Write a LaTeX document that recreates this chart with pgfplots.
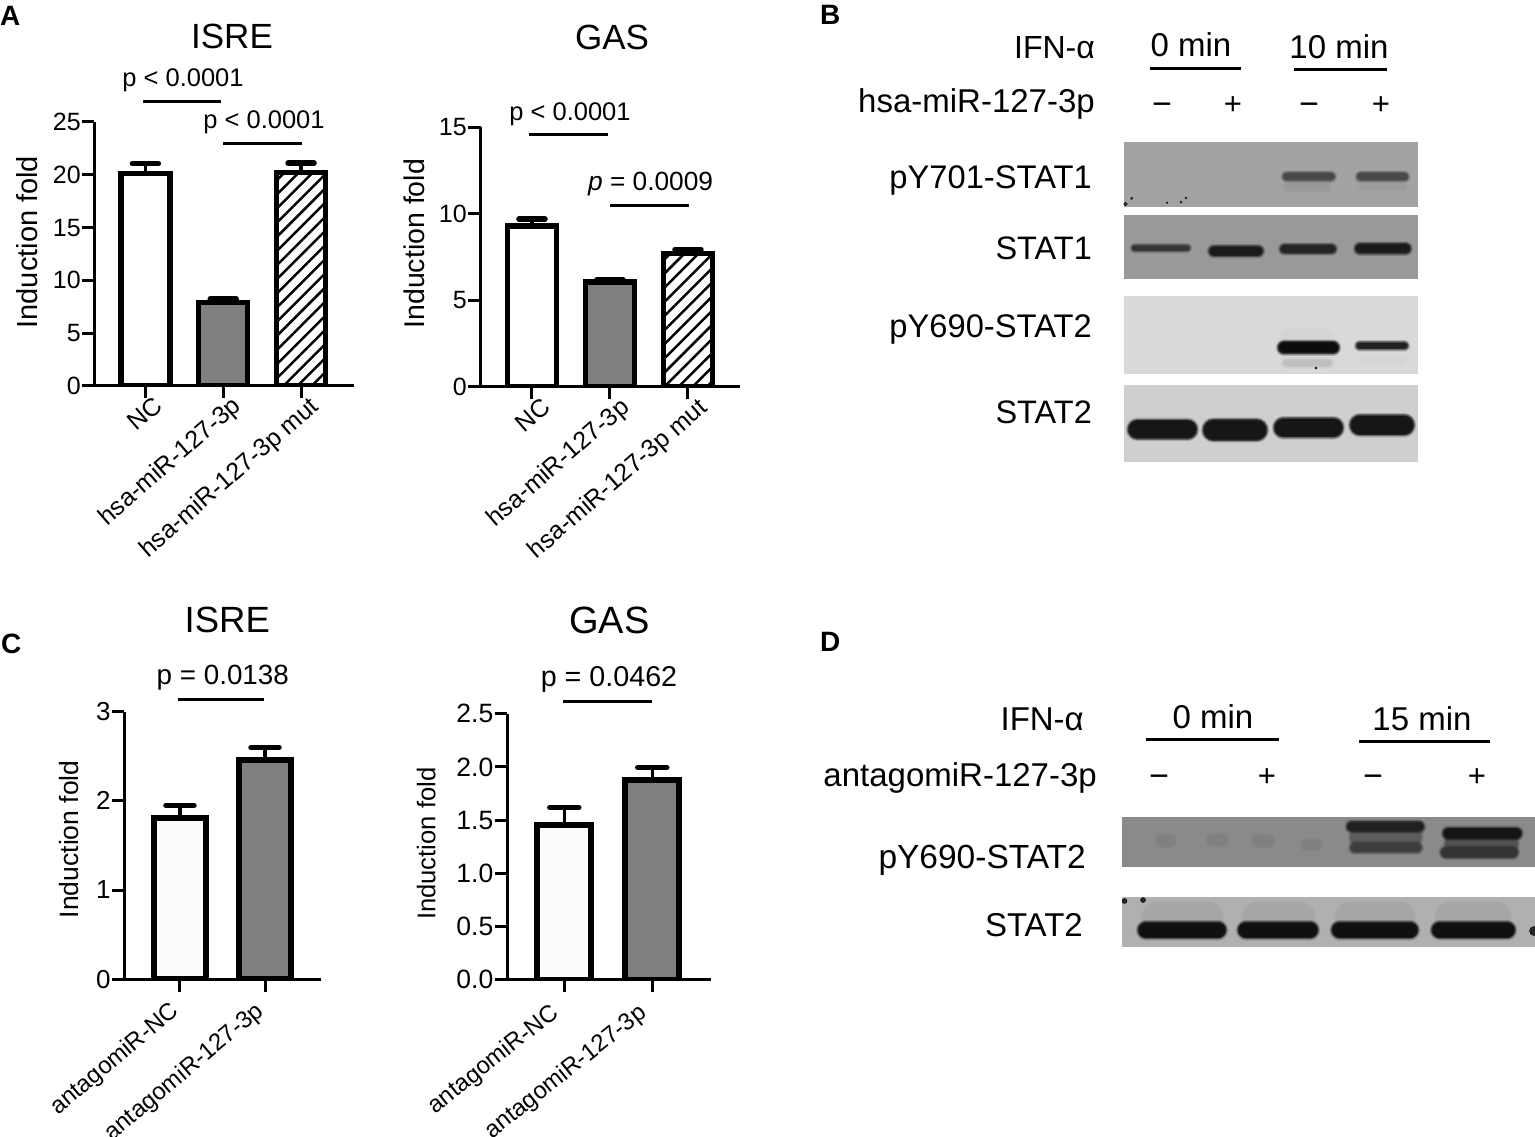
\documentclass[border=0pt]{standalone}
\usepackage{fontspec}
\setmainfont{Liberation Sans}
\usepackage{pgfplots}
\pgfplotsset{compat=1.18}
\usetikzlibrary{patterns.meta}
\newcommand{\fs}[1]{\fontsize{#1}{#1}\selectfont}
\definecolor{bargray}{HTML}{7F7F7F}
\definecolor{offwhite}{HTML}{FDFBF9}
% one soft blot band: x1, x2, y, thickness, colour
\newcommand{\band}[5]{%
  \pgfmathsetmacro{\bA}{#1+#4/2}\pgfmathsetmacro{\bB}{#2-#4/2}%
  \addplot[draw=#5,line cap=round,opacity=.10,line width=#4pt+5pt,no markers,forget plot] coordinates {(\bA,#3)(\bB,#3)};%
  \addplot[draw=#5,line cap=round,opacity=.14,line width=#4pt+3.8pt,no markers,forget plot] coordinates {(\bA,#3)(\bB,#3)};%
  \addplot[draw=#5,line cap=round,opacity=.20,line width=#4pt+2.6pt,no markers,forget plot] coordinates {(\bA,#3)(\bB,#3)};%
  \addplot[draw=#5,line cap=round,opacity=.30,line width=#4pt+1.5pt,no markers,forget plot] coordinates {(\bA,#3)(\bB,#3)};%
  \addplot[draw=#5,line cap=round,opacity=.45,line width=#4pt+0.5pt,no markers,forget plot] coordinates {(\bA,#3)(\bB,#3)};%
  \addplot[draw=#5,line cap=round,opacity=.65,line width=#4pt-1pt,no markers,forget plot] coordinates {(\bA,#3)(\bB,#3)};%
  \addplot[draw=#5,line cap=round,opacity=.85,line width=#4pt-2.5pt,no markers,forget plot] coordinates {(\bA,#3)(\bB,#3)};%
}
\newcommand{\blot}[5]{\addplot[fill=#5,draw=none,forget plot] coordinates {(#1,#2)(#3,#2)(#3,#4)(#1,#4)} -- cycle;}
\newcommand{\speck}[4]{\addplot[draw=none,mark=*,mark size=#3pt,mark options={fill=#4,draw=none},only marks,forget plot] coordinates {(#1,#2)};}
\newcommand{\sig}[3]{\addplot[black,line width=3pt,no markers,forget plot] coordinates {(#1,#3)(#2,#3)};}
\pgfplotsset{
  barax/.style={scale only axis,axis lines=left,axis line style={-,line width=3pt,black},
    tick style={line width=3pt,black},tick align=outside,
    major tick length=12.5pt,minor tick length=0pt,
    enlargelimits=false,ymin=0,
    /pgf/number format/assume math mode=true,
    yticklabel style={inner sep=1pt},
    every axis y label/.style={rotate=90,anchor=center},
    clip=true},
  mybar/.style={ybar,bar shift=0pt,draw=black,line join=miter,
    error bars/y dir=plus,error bars/y explicit,
    error bars/error bar style={line width=3.5pt,black},
    error bars/error mark options={rotate=90,mark size=#1pt,line width=5.5pt,line cap=round,black}},
}
\begin{document}
\begin{tikzpicture}
\path[use as bounding box] (0pt,0pt) rectangle (1535pt,1136pt);
% ---------- page-wide layer in pixel coordinates: blots, brackets, text
\begin{axis}[at={(0pt,0pt)},anchor=south west,scale only axis,width=1535pt,height=1136pt,
  xmin=0,xmax=1535,ymin=0,ymax=1136,y dir=reverse,hide axis,enlargelimits=false]
% blot B1
\blot{1124}{142.3}{1418}{206.7}{black!36}
\band{1285}{1330}{187}{7}{black!40}
\band{1282.7}{1335}{176.7}{8}{black!72}
\band{1360}{1405}{187}{6}{black!39}
\band{1356.7}{1408.3}{176.7}{8}{black!72}
\speck{1131.7}{198.3}{1.2}{black!65}
\speck{1167}{202.7}{0.8}{black!55}
\speck{1181}{202}{1.2}{black!65}
\speck{1186}{198}{1.2}{black!55}
\speck{1125.5}{204}{1.8}{black!80}
% blot B2
\blot{1124}{215.3}{1418}{279.3}{black!40}
\band{1131.7}{1190}{248}{6}{black!80}
\band{1209}{1263}{251}{10}{black!90}
\band{1280}{1336}{249}{9}{black!86}
\band{1355}{1410.7}{248.7}{10}{black!90}
% blot B3
\blot{1124}{296}{1418}{374.3}{black!15}
\band{1283}{1332}{335}{10}{black!17}
\band{1283}{1332}{363}{7}{black!25}
\band{1278}{1339}{347.7}{12}{black!96}
\band{1360}{1405}{360}{6}{black!17}
\band{1356}{1408}{345.7}{7}{black!88}
\speck{1316}{368}{1.2}{black!70}
% blot B4
\blot{1124}{385}{1418}{462.3}{black!19}
\band{1128}{1197}{429.3}{19}{black!92}
\band{1203}{1267}{430}{21}{black!92}
\band{1274}{1343}{427.7}{19}{black!92}
\band{1350}{1414}{425}{20}{black!92}
% blot D1
\blot{1122.3}{816.7}{1535}{866.7}{black!46}
\band{1157}{1175}{841}{11}{black!50}
\band{1208}{1228}{840}{11}{black!50}
\band{1253}{1273}{841}{11}{black!50}
\band{1302}{1321}{845}{9}{black!50}
\band{1350}{1421.7}{837}{17}{black!64}
\band{1346.7}{1424}{826.7}{10}{black!88}
\band{1350}{1421.7}{847.7}{10}{black!76}
\band{1445}{1518}{843}{17}{black!68}
\band{1443}{1521.7}{833.3}{11}{black!92}
\band{1440.7}{1518}{852.3}{11}{black!80}
% blot D2
\blot{1122.3}{897}{1535}{947}{black!31}
\band{1143}{1222}{918}{30}{black!35}
\band{1243}{1314}{918}{30}{black!35}
\band{1336}{1414}{918}{30}{black!35}
\band{1436}{1510}{918}{30}{black!35}
\band{1138}{1226}{930}{16}{black!94}
\band{1238}{1318}{930}{16}{black!94}
\band{1331.7}{1418}{930}{16}{black!94}
\band{1431.7}{1515}{930}{16}{black!94}
\speck{1534}{931}{4.5}{black!85}
\speck{1124.5}{901}{2.5}{black!85}
\speck{1143}{900}{2.5}{black!85}
% significance lines
\sig{142.7}{221}{101.7}
\sig{223.3}{302.3}{143.3}
\sig{529}{607.7}{134.5}
\sig{610}{689}{205.7}
\sig{178}{264}{699.5}
\sig{563}{651.7}{701.5}
\sig{1150}{1241}{68}
\sig{1294}{1387}{69}
\sig{1146}{1279}{739}
\sig{1359}{1490}{741}
% panel letters
\node[anchor=base west,inner sep=0pt,font=\fs{28}\bfseries] at (axis cs:0,25) {A};
\node[anchor=base west,inner sep=0pt,font=\fs{28}\bfseries] at (axis cs:820,24) {B};
\node[anchor=base west,inner sep=0pt,font=\fs{28}\bfseries] at (axis cs:1,653) {C};
\node[anchor=base west,inner sep=0pt,font=\fs{28}\bfseries] at (axis cs:820,651) {D};
% titles
\node[anchor=base,inner sep=0pt,font=\fs{35}] at (axis cs:232,48.3) {ISRE};
\node[anchor=base,inner sep=0pt,font=\fs{35}] at (axis cs:612,49) {GAS};
\node[anchor=base,inner sep=0pt,font=\fs{36.5}] at (axis cs:227.3,632.5) {ISRE};
\node[anchor=base,inner sep=0pt,font=\fs{38}] at (axis cs:609.5,633.5) {GAS};
% p values
\node[anchor=base,inner sep=0pt,font=\fs{25.5}] at (axis cs:183,86.7) {p < 0.0001};
\node[anchor=base,inner sep=0pt,font=\fs{25.5}] at (axis cs:264,128.3) {p < 0.0001};
\node[anchor=base,inner sep=0pt,font=\fs{25.5}] at (axis cs:570,120) {p < 0.0001};
\node[anchor=base,inner sep=0pt,font=\fs{26.3}] at (axis cs:650.6,190) {\textit{p} = 0.0009};
\node[anchor=base,inner sep=0pt,font=\fs{27.8}] at (axis cs:222.8,684.4) {p = 0.0138};
\node[anchor=base,inner sep=0pt,font=\fs{28.7}] at (axis cs:609,686.5) {p = 0.0462};
% panel B text
\node[anchor=base east,inner sep=0pt,font=\fs{32}] at (axis cs:1095,58) {IFN-α};
\node[anchor=base,inner sep=0pt,font=\fs{33}] at (axis cs:1191,56) {0 min};
\node[anchor=base,inner sep=0pt,font=\fs{33}] at (axis cs:1339,58) {10 min};
\node[anchor=base east,inner sep=0pt,font=\fs{33}] at (axis cs:1095,112) {hsa-miR-127-3p};
\node[anchor=base,inner sep=0pt,font=\fs{34}] at (axis cs:1162,115) {−};
\node[anchor=base,inner sep=0pt,font=\fs{31}] at (axis cs:1233,114) {+};
\node[anchor=base,inner sep=0pt,font=\fs{34}] at (axis cs:1309,115) {−};
\node[anchor=base,inner sep=0pt,font=\fs{31}] at (axis cs:1381,114) {+};
\node[anchor=base east,inner sep=0pt,font=\fs{32.7}] at (axis cs:1092,188) {pY701-STAT1};
\node[anchor=base east,inner sep=0pt,font=\fs{32.5}] at (axis cs:1092,259) {STAT1};
\node[anchor=base east,inner sep=0pt,font=\fs{32.7}] at (axis cs:1092,337) {pY690-STAT2};
\node[anchor=base east,inner sep=0pt,font=\fs{32.5}] at (axis cs:1092,423) {STAT2};
% panel D text
\node[anchor=base east,inner sep=0pt,font=\fs{33}] at (axis cs:1084,730) {IFN-α};
\node[anchor=base,inner sep=0pt,font=\fs{33}] at (axis cs:1213,728) {0 min};
\node[anchor=base,inner sep=0pt,font=\fs{33}] at (axis cs:1422,730) {15 min};
\node[anchor=base east,inner sep=0pt,font=\fs{33}] at (axis cs:1097,786) {antagomiR-127-3p};
\node[anchor=base,inner sep=0pt,font=\fs{34}] at (axis cs:1159,787) {−};
\node[anchor=base,inner sep=0pt,font=\fs{31}] at (axis cs:1267,786) {+};
\node[anchor=base,inner sep=0pt,font=\fs{34}] at (axis cs:1373,787) {−};
\node[anchor=base,inner sep=0pt,font=\fs{31}] at (axis cs:1477,786) {+};
\node[anchor=base east,inner sep=0pt,font=\fs{33.5}] at (axis cs:1086,868) {pY690-STAT2};
\node[anchor=base east,inner sep=0pt,font=\fs{33}] at (axis cs:1083,936) {STAT2};
\end{axis}
% ---------- A, ISRE
\begin{axis}[barax,at={(94.5pt,750pt)},anchor=south west,width=259.5pt,height=264pt,
  xmin=-0.654,xmax=2.680,ymax=25,ytick={0,5,10,15,20,25},
  xtick={0,1,2},xticklabels={NC\hspace{13pt},hsa-miR-127-3p,hsa-miR-127-3p mut},
  yticklabel style={font=\fs{25}},
  xticklabel style={font=\fs{25},rotate=41,anchor=north east,inner sep=0pt,xshift=8pt,yshift=-2pt},
  ylabel={Induction fold},ylabel style={font=\fs{29},at={(axis description cs:-0.26,0.545)}}]
\addplot[mybar=13,bar width=49pt,line width=5.5pt,fill=white] coordinates {(0,20.1) +- (0,0.95)};
\addplot[mybar=13,bar width=49pt,line width=5.5pt,fill=bargray] coordinates {(1,7.93) +- (0,0.3)};
\addplot[mybar=13,bar width=49pt,line width=5.5pt,pattern={Lines[angle=45,distance=10pt,line width=2.5pt]}] coordinates {(2,20.2) +- (0,0.9)};
\end{axis}
% ---------- A, GAS
\begin{axis}[barax,at={(480.5pt,749pt)},anchor=south west,width=259.5pt,height=259.5pt,
  xmin=-0.660,xmax=2.667,ymax=15,ytick={0,5,10,15},
  xtick={0,1,2},xticklabels={NC\hspace{13pt},hsa-miR-127-3p,hsa-miR-127-3p mut},
  yticklabel style={font=\fs{25}},
  xticklabel style={font=\fs{25},rotate=41,anchor=north east,inner sep=0pt,xshift=9pt,yshift=-3pt},
  ylabel={Induction fold},ylabel style={font=\fs{28.5},at={(axis description cs:-0.256,0.552)}}]
\addplot[mybar=13,bar width=49pt,line width=5.5pt,fill=white] coordinates {(0,9.3) +- (0,0.4)};
\addplot[mybar=13,bar width=49pt,line width=5.5pt,fill=bargray] coordinates {(1,6.07) +- (0,0.13)};
\addplot[mybar=13,bar width=49pt,line width=5.5pt,pattern={Lines[angle=45,distance=10pt,line width=2.5pt]}] coordinates {(2,7.72) +- (0,0.22)};
\end{axis}
% ---------- C, ISRE
\begin{axis}[barax,at={(124.3pt,156.9pt)},anchor=south west,width=197pt,height=267.3pt,
  xmin=-0.655,xmax=1.662,ymax=3,ytick={0,1,2,3},
  xtick={0,1},xticklabels={antagomiR-NC,antagomiR-127-3p},
  yticklabel style={font=\fs{26}},
  xticklabel style={font=\fs{24},rotate=40,anchor=north east,inner sep=0pt,xshift=-14pt,yshift=1pt},
  ylabel={Induction fold},ylabel style={font=\fs{26.5},at={(axis description cs:-0.282,0.523)}}]
\addplot[mybar=14,bar width=52.3pt,line width=6pt,fill=offwhite] coordinates {(0,1.81) +- (0,0.14)};
\addplot[mybar=14,bar width=52.3pt,line width=6pt,fill=bargray] coordinates {(1,2.46) +- (0,0.14)};
\end{axis}
% ---------- C, GAS
\begin{axis}[barax,at={(507pt,156.5pt)},anchor=south west,width=203.7pt,height=265.7pt,
  xmin=-0.651,xmax=1.664,ymax=2.5,ytick={0,0.5,1,1.5,2,2.5},
  yticklabel={\pgfmathprintnumber[fixed,fixed zerofill,precision=1,assume math mode=true]{\tick}},
  xtick={0,1},xticklabels={antagomiR-NC,antagomiR-127-3p},
  yticklabel style={font=\fs{26.5}},
  xticklabel style={font=\fs{24},rotate=38.5,anchor=north east,inner sep=0pt,xshift=-18pt,yshift=2pt},
  ylabel={Induction fold},ylabel style={font=\fs{25.6},at={(axis description cs:-0.396,0.511)}}]
\addplot[mybar=14.5,bar width=54pt,line width=6pt,fill=offwhite] coordinates {(0,1.458) +- (0,0.16)};
\addplot[mybar=14.5,bar width=54pt,line width=6pt,fill=bargray] coordinates {(1,1.878) +- (0,0.117)};
\end{axis}
\end{tikzpicture}
\end{document}
